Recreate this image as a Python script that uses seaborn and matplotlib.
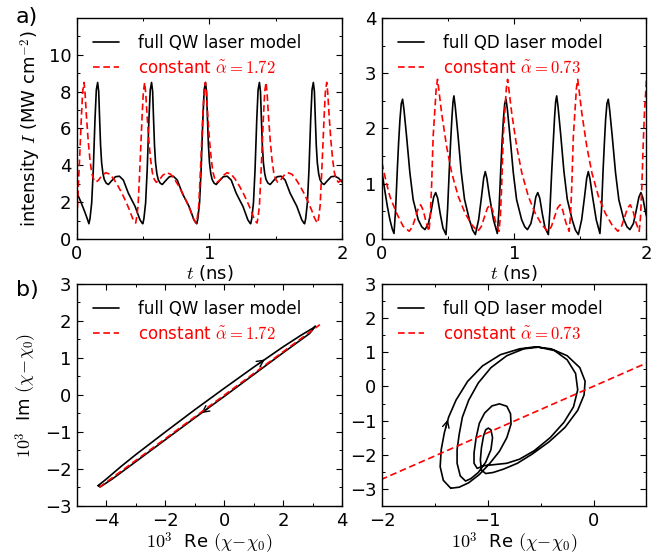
import numpy as np
import pandas as pd
import matplotlib
matplotlib.use("Agg")
import matplotlib.pyplot as plt
from matplotlib.ticker import MultipleLocator
import seaborn as sns

# ---------------- data ----------------
# (t [ns], intensity [MW/cm^2]) -- full QW laser model
qw_full = [
    (0.000, 2.50), (0.030, 2.00), (0.060, 1.45), (0.080, 1.05),
    (0.090, 0.83), (0.098, 1.10), (0.111, 1.96), (0.123, 3.77), (0.136, 6.50), (0.146, 8.10),
    (0.156, 8.50), (0.164, 8.00), (0.171, 6.50), (0.178, 5.10), (0.186, 4.14), (0.196, 3.55),
    (0.206, 3.23), (0.221, 3.03), (0.237, 2.96), (0.260, 3.15), (0.290, 3.38), (0.320, 3.41),
    (0.350, 3.20), (0.387, 2.50), (0.415, 2.10), (0.438, 1.78), (0.460, 1.35), (0.475, 1.05),
    (0.490, 0.88),
    (0.497, 0.83), (0.505, 1.10), (0.518, 1.96), (0.530, 3.77), (0.543, 6.50), (0.553, 8.10),
    (0.563, 8.50), (0.571, 8.00), (0.578, 6.50), (0.585, 5.10), (0.593, 4.14), (0.603, 3.55),
    (0.613, 3.23), (0.628, 3.03), (0.644, 2.96), (0.667, 3.15), (0.697, 3.38), (0.727, 3.41),
    (0.757, 3.20), (0.794, 2.50), (0.822, 2.10), (0.845, 1.78), (0.867, 1.35), (0.882, 1.05),
    (0.897, 0.88),
    (0.904, 0.83), (0.912, 1.10), (0.925, 1.96), (0.937, 3.77), (0.950, 6.50), (0.960, 8.10),
    (0.970, 8.50), (0.978, 8.00), (0.985, 6.50), (0.992, 5.10), (1.000, 4.14), (1.010, 3.55),
    (1.020, 3.23), (1.035, 3.03), (1.051, 2.96), (1.074, 3.15), (1.104, 3.38), (1.134, 3.41),
    (1.164, 3.20), (1.201, 2.50), (1.229, 2.10), (1.252, 1.78), (1.274, 1.35), (1.289, 1.05),
    (1.304, 0.88),
    (1.311, 0.83), (1.319, 1.10), (1.332, 1.96), (1.344, 3.77), (1.357, 6.50), (1.367, 8.10),
    (1.377, 8.50), (1.385, 8.00), (1.392, 6.50), (1.399, 5.10), (1.407, 4.14), (1.417, 3.55),
    (1.427, 3.23), (1.442, 3.03), (1.458, 2.96), (1.481, 3.15), (1.511, 3.38), (1.541, 3.41),
    (1.571, 3.20), (1.608, 2.50), (1.636, 2.10), (1.659, 1.78), (1.681, 1.35), (1.696, 1.05),
    (1.711, 0.88),
    (1.718, 0.83), (1.726, 1.10), (1.739, 1.96), (1.751, 3.77), (1.764, 6.50), (1.774, 8.10),
    (1.784, 8.50), (1.792, 8.00), (1.799, 6.50), (1.806, 5.10), (1.814, 4.14), (1.824, 3.55),
    (1.834, 3.23), (1.849, 3.03), (1.865, 2.96), (1.888, 3.15), (1.918, 3.38), (1.948, 3.41),
    (1.975, 3.30), (2.000, 3.10),
]

# constant alpha = 1.72 (QW)
qw_const = [
    (0.000, 1.15), (0.013, 3.30), (0.023, 4.90), (0.033, 6.60), (0.043, 8.00),
    (0.053, 8.50), (0.061, 7.90), (0.071, 6.70), (0.085, 5.30), (0.098, 4.30), (0.111, 3.60),
    (0.125, 3.25), (0.141, 3.08), (0.163, 3.20), (0.188, 3.45), (0.217, 3.60), (0.248, 3.52),
    (0.278, 3.25), (0.308, 2.90), (0.338, 2.50), (0.368, 2.05), (0.398, 1.55), (0.418, 1.15),
    (0.433, 0.95),
    (0.443, 0.87), (0.451, 1.20), (0.461, 1.80), (0.471, 3.30), (0.481, 4.90), (0.491, 6.60),
    (0.501, 8.00), (0.511, 8.50), (0.519, 7.90), (0.529, 6.70), (0.543, 5.30), (0.556, 4.30),
    (0.569, 3.60), (0.583, 3.25), (0.599, 3.08), (0.621, 3.20), (0.646, 3.45), (0.675, 3.60),
    (0.706, 3.52), (0.736, 3.25), (0.766, 2.90), (0.796, 2.50), (0.826, 2.05), (0.856, 1.55),
    (0.876, 1.15), (0.891, 0.95),
    (0.901, 0.87), (0.909, 1.20), (0.919, 1.80), (0.929, 3.30), (0.939, 4.90), (0.949, 6.60),
    (0.959, 8.00), (0.969, 8.50), (0.977, 7.90), (0.987, 6.70), (1.001, 5.30), (1.014, 4.30),
    (1.027, 3.60), (1.041, 3.25), (1.057, 3.08), (1.079, 3.20), (1.104, 3.45), (1.133, 3.60),
    (1.164, 3.52), (1.194, 3.25), (1.224, 2.90), (1.254, 2.50), (1.284, 2.05), (1.314, 1.55),
    (1.334, 1.15), (1.349, 0.95),
    (1.359, 0.87), (1.367, 1.20), (1.377, 1.80), (1.387, 3.30), (1.397, 4.90), (1.407, 6.60),
    (1.417, 8.00), (1.427, 8.50), (1.435, 7.90), (1.445, 6.70), (1.459, 5.30), (1.472, 4.30),
    (1.485, 3.60), (1.499, 3.25), (1.515, 3.08), (1.537, 3.20), (1.562, 3.45), (1.591, 3.60),
    (1.622, 3.52), (1.652, 3.25), (1.682, 2.90), (1.712, 2.50), (1.742, 2.05), (1.772, 1.55),
    (1.792, 1.15), (1.807, 0.95),
    (1.817, 0.87), (1.825, 1.20), (1.835, 1.80), (1.845, 3.30), (1.855, 4.90), (1.865, 6.60),
    (1.875, 8.00), (1.885, 8.50), (1.893, 7.90), (1.903, 6.70), (1.917, 5.30), (1.930, 4.30),
    (1.943, 3.60), (1.957, 3.25), (1.973, 3.08), (1.995, 3.20), (2.000, 3.22),
]

# full QD laser model
qd_full = [
    (0.000, 1.22), (0.020, 0.90), (0.040, 0.60), (0.060, 0.35), (0.078, 0.18), (0.091, 0.10),
    (0.103, 0.53), (0.116, 1.25), (0.126, 1.75), (0.136, 2.16), (0.146, 2.45), (0.156, 2.53),
    (0.166, 2.35), (0.186, 1.86), (0.211, 1.20), (0.236, 0.71), (0.274, 0.35), (0.301, 0.22),
    (0.325, 0.17), (0.351, 0.28), (0.371, 0.50), (0.391, 0.76), (0.406, 0.84), (0.421, 0.74),
    (0.441, 0.45), (0.461, 0.20), (0.484, 0.08),
    (0.496, 0.53), (0.509, 1.25), (0.519, 1.75), (0.529, 2.20), (0.537, 2.48), (0.544, 2.59),
    (0.554, 2.40), (0.574, 1.90), (0.599, 1.22), (0.624, 0.72), (0.662, 0.34), (0.686, 0.16),
    (0.706, 0.08), (0.731, 0.35), (0.753, 0.77), (0.769, 1.10), (0.781, 1.22), (0.793, 1.10),
    (0.813, 0.77), (0.843, 0.35), (0.872, 0.10),
    (0.885, 0.53), (0.898, 1.25), (0.908, 1.75), (0.918, 2.16), (0.928, 2.45), (0.938, 2.53),
    (0.948, 2.35), (0.968, 1.86), (0.993, 1.20), (1.018, 0.71), (1.056, 0.35), (1.080, 0.22),
    (1.100, 0.17), (1.126, 0.28), (1.146, 0.50), (1.163, 0.76), (1.178, 0.84), (1.193, 0.74),
    (1.213, 0.45), (1.233, 0.20), (1.258, 0.08),
    (1.270, 0.53), (1.284, 1.25), (1.295, 1.75), (1.305, 2.20), (1.313, 2.48), (1.321, 2.59),
    (1.331, 2.40), (1.351, 1.90), (1.376, 1.22), (1.401, 0.72), (1.439, 0.34), (1.463, 0.16),
    (1.485, 0.08), (1.510, 0.35), (1.532, 0.77), (1.548, 1.10), (1.560, 1.22), (1.572, 1.10),
    (1.592, 0.77), (1.620, 0.35), (1.648, 0.10),
    (1.660, 0.53), (1.672, 1.25), (1.682, 1.75), (1.691, 2.16), (1.701, 2.45), (1.711, 2.53),
    (1.721, 2.35), (1.741, 1.86), (1.766, 1.20), (1.791, 0.71), (1.829, 0.35), (1.853, 0.22),
    (1.875, 0.17), (1.901, 0.28), (1.921, 0.50), (1.943, 0.76), (1.958, 0.84), (1.973, 0.74),
    (1.990, 0.52), (2.000, 0.41),
]

# constant alpha = 0.73 (QD)
qd_const = [
    (0.000, 1.38), (0.030, 1.05), (0.060, 0.77), (0.110, 0.47), (0.160, 0.23), (0.206, 0.14),
    (0.230, 0.22), (0.255, 0.40), (0.275, 0.56), (0.292, 0.62), (0.312, 0.52), (0.334, 0.30),
    (0.355, 0.14), (0.365, 0.40), (0.375, 0.95), (0.387, 1.86), (0.400, 2.34), (0.410, 2.72),
    (0.420, 2.89), (0.430, 2.70), (0.451, 2.28), (0.489, 1.67), (0.527, 1.20), (0.577, 0.77),
    (0.628, 0.47), (0.678, 0.26), (0.724, 0.14),
    (0.750, 0.22), (0.775, 0.40), (0.797, 0.56), (0.817, 0.62), (0.837, 0.52), (0.860, 0.30),
    (0.885, 0.14), (0.895, 0.40), (0.905, 0.95), (0.917, 1.86), (0.930, 2.34), (0.940, 2.72),
    (0.950, 2.89), (0.960, 2.70), (0.981, 2.28), (1.019, 1.67), (1.057, 1.20), (1.107, 0.77),
    (1.158, 0.47), (1.208, 0.26), (1.254, 0.14),
    (1.280, 0.22), (1.305, 0.40), (1.327, 0.56), (1.347, 0.62), (1.367, 0.52), (1.390, 0.30),
    (1.415, 0.14), (1.425, 0.40), (1.435, 0.95), (1.447, 1.86), (1.460, 2.34), (1.470, 2.72),
    (1.480, 2.89), (1.490, 2.70), (1.511, 2.28), (1.549, 1.67), (1.587, 1.20), (1.637, 0.77),
    (1.688, 0.47), (1.738, 0.26), (1.784, 0.14),
    (1.810, 0.22), (1.835, 0.40), (1.857, 0.56), (1.877, 0.62), (1.897, 0.52), (1.920, 0.30),
    (1.945, 0.14), (1.955, 0.40), (1.965, 0.95), (1.975, 1.70), (1.985, 2.30), (2.000, 2.88),
]

# phase portraits: (10^3 Re, 10^3 Im)
qw_loop = [
    (-4.28, -2.45), (-4.00, -2.27), (-3.50, -1.93), (-3.00, -1.61), (-2.00, -1.00),
    (-1.00, -0.40), (0.00, 0.18), (1.00, 0.75), (2.00, 1.30), (2.60, 1.61), (3.00, 1.80),
    (3.10, 1.86), (2.90, 1.66), (2.00, 1.14), (1.00, 0.55), (0.00, -0.04), (-1.00, -0.62),
    (-2.00, -1.21), (-3.00, -1.80), (-3.80, -2.27), (-4.20, -2.48), (-4.28, -2.45),
]
qw_line = [(-4.25, -2.50), (3.25, 1.90)]

qd_loop = [
    (-1.35, -2.98), (-1.42, -2.75), (-1.45, -2.35), (-1.44, -1.85), (-1.41, -1.35),
    (-1.37, -0.90), (-1.30, -0.40), (-1.19, 0.15), (-1.05, 0.60), (-0.88, 0.93),
    (-0.70, 1.10), (-0.55, 1.16), (-0.40, 1.10), (-0.25, 0.90), (-0.13, 0.55),
    (-0.08, 0.15), (-0.09, -0.25), (-0.15, -0.70), (-0.27, -1.20), (-0.42, -1.62),
    (-0.58, -1.98), (-0.72, -2.25), (-0.85, -2.42), (-0.95, -2.52), (-1.02, -2.55),
    (-1.06, -2.45), (-1.07, -2.15), (-1.06, -1.80), (-1.04, -1.45), (-1.02, -1.27),
    (-0.995, -1.22), (-0.97, -1.27), (-0.955, -1.50), (-0.97, -1.85), (-1.02, -2.22),
    (-1.09, -2.52), (-1.16, -2.70), (-1.21, -2.77),
    (-1.26, -2.62), (-1.29, -2.25), (-1.29, -1.85), (-1.27, -1.40), (-1.24, -0.90),
    (-1.18, -0.40), (-1.09, 0.10), (-0.97, 0.55), (-0.82, 0.90), (-0.66, 1.10),
    (-0.52, 1.15), (-0.37, 1.05), (-0.25, 0.78), (-0.17, 0.38), (-0.15, -0.10),
    (-0.19, -0.60), (-0.28, -1.05), (-0.41, -1.50), (-0.56, -1.88), (-0.70, -2.13),
    (-0.82, -2.25), (-0.94, -2.29), (-1.04, -2.32), (-1.10, -2.40),
    (-1.13, -2.25), (-1.13, -1.95), (-1.11, -1.50), (-1.08, -1.08), (-1.03, -0.78),
    (-0.96, -0.57), (-0.89, -0.51), (-0.82, -0.58), (-0.785, -0.80), (-0.78, -1.10),
    (-0.82, -1.50), (-0.89, -1.90), (-0.98, -2.25), (-1.08, -2.58), (-1.18, -2.82),
    (-1.27, -2.95), (-1.35, -2.98),
]
qd_line = [(-2.10, -2.85), (0.60, 0.82)]

labels_qw = ["full QW laser model", r"constant $\tilde{\alpha}=1.72$"]
labels_qd = ["full QD laser model", r"constant $\tilde{\alpha}=0.73$"]

# ---------------- style ----------------
sns.set_style("ticks")
plt.rcParams.update({
    "font.family": ["DejaVu Sans"],
    "mathtext.fontset": "cm",
    "text.color": "black",
    "axes.labelcolor": "black",
    "axes.edgecolor": "black",
    "axes.linewidth": 1.0,
    "xtick.color": "black",
    "ytick.color": "black",
    "xtick.direction": "in",
    "ytick.direction": "in",
    "xtick.top": True,
    "ytick.right": True,
    "xtick.major.size": 4.5,
    "ytick.major.size": 4.5,
    "xtick.minor.size": 2.5,
    "ytick.minor.size": 2.5,
    "xtick.major.width": 0.8,
    "ytick.major.width": 0.8,
    "xtick.minor.width": 0.7,
    "ytick.minor.width": 0.7,
    "xtick.labelsize": 13,
    "ytick.labelsize": 13,
    "axes.labelsize": 13,
    "xtick.major.pad": 4,
    "ytick.major.pad": 4,
})

fig = plt.figure(figsize=(6.7, 5.57), dpi=100)
axTL = fig.add_axes([0.1149, 0.5709, 0.3955, 0.3968])
axTR = fig.add_axes([0.5701, 0.5709, 0.3948, 0.3968])
axBL = fig.add_axes([0.1149, 0.0916, 0.3955, 0.3986])
axBR = fig.add_axes([0.5701, 0.0916, 0.3948, 0.3986])

LW = 1.2
DASH = (0, (4.0, 2.2))


def series(data):
    x, y = zip(*data)
    return pd.DataFrame({"x": x, "y": y})


def draw(ax, full, const, labels, sort=True):
    a = series(full)
    b = series(const)
    sns.lineplot(data=a, x="x", y="y", ax=ax, color="black", lw=LW,
                 sort=sort, estimator=None, label=labels[0])
    sns.lineplot(data=b, x="x", y="y", ax=ax, color="red", lw=LW,
                 linestyle=DASH, sort=sort, estimator=None, label=labels[1])
    leg = ax.legend(loc="upper left", frameon=False, fontsize=12,
                    handlelength=1.55, handletextpad=1.15,
                    borderaxespad=0.55, labelspacing=0.42)
    for txt, c in zip(leg.get_texts(), ["black", "red"]):
        txt.set_color(c)
    ax.set_xlabel("")
    ax.set_ylabel("")


draw(axTL, qw_full, qw_const, labels_qw)
draw(axTR, qd_full, qd_const, labels_qd)
draw(axBL, qw_loop, qw_line, labels_qw, sort=False)
draw(axBR, qd_loop, qd_line, labels_qd, sort=False)

# arrows along the trajectories (placed on segments of the data)
def arrow_on(ax, data, i, f0, f1):
    (x0, y0), (x1, y1) = data[i], data[i + 1]
    p0 = (x0 + f0 * (x1 - x0), y0 + f0 * (y1 - y0))
    p1 = (x0 + f1 * (x1 - x0), y0 + f1 * (y1 - y0))
    ax.annotate("", xy=p1, xytext=p0,
                arrowprops=dict(arrowstyle="->", color="black", lw=1.0,
                                mutation_scale=12, shrinkA=0, shrinkB=0),
                zorder=1)

arrow_on(axBL, qw_loop, 7, 0.15, 0.38)
arrow_on(axBL, qw_loop, 15, 0.55, 0.78)
arrow_on(axBR, qd_loop, 4, 0.30, 0.85)

# axes limits & ticks
axTL.set_xlim(0, 2); axTL.set_ylim(0, 12)
axTL.set_xticks([0, 1, 2]); axTL.set_yticks([0, 2, 4, 6, 8, 10])
axTL.xaxis.set_minor_locator(MultipleLocator(0.5))
axTL.yaxis.set_minor_locator(MultipleLocator(1))

axTR.set_xlim(0, 2); axTR.set_ylim(0, 4)
axTR.set_xticks([0, 1, 2]); axTR.set_yticks([0, 1, 2, 3, 4])
axTR.xaxis.set_minor_locator(MultipleLocator(0.5))
axTR.yaxis.set_minor_locator(MultipleLocator(0.5))

axBL.set_xlim(-5, 4); axBL.set_ylim(-3, 3)
axBL.set_xticks([-4, -2, 0, 2, 4]); axBL.set_yticks([-3, -2, -1, 0, 1, 2, 3])
axBL.xaxis.set_minor_locator(MultipleLocator(1))
axBL.yaxis.set_minor_locator(MultipleLocator(0.5))

axBR.set_xlim(-2, 0.5); axBR.set_ylim(-3.5, 3)
axBR.set_xticks([-2, -1, 0]); axBR.set_yticks([-3, -2, -1, 0, 1, 2, 3])
axBR.xaxis.set_minor_locator(MultipleLocator(0.5))
axBR.yaxis.set_minor_locator(MultipleLocator(0.5))

for ax in (axTL, axTR, axBL, axBR):
    ax.tick_params(which="both", direction="in", top=True, right=True)

axTL.set_xlabel("$t$ (ns)", labelpad=0)
axTR.set_xlabel("$t$ (ns)", labelpad=0)
axTL.set_ylabel("intensity $I$ (MW cm$^{-2}$)", labelpad=4)
axBL.set_xlabel(r"$10^3$  Re $(\chi\!-\!\chi_0)$", labelpad=1)
axBR.set_xlabel(r"$10^3$  Re $(\chi\!-\!\chi_0)$", labelpad=1)
axBL.set_ylabel(r"$10^3$  Im $(\chi\!-\!\chi_0)$", labelpad=4)

fig.text(0.024, 0.988, "a)", fontsize=16, va="top", ha="left")
fig.text(0.024, 0.497, "b)", fontsize=16, va="top", ha="left")

fig.savefig("out.png", dpi=100)
